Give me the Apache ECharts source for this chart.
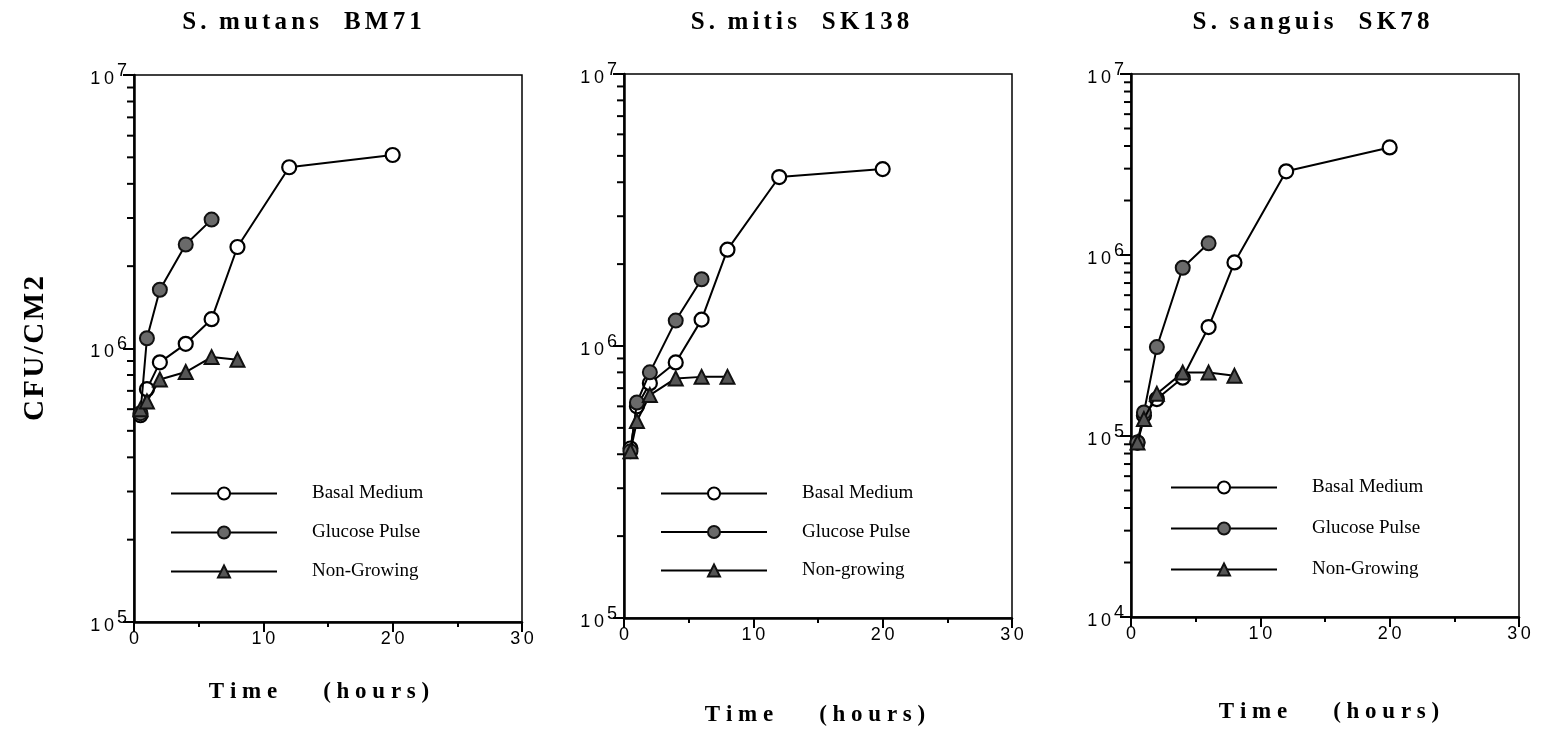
<!DOCTYPE html>
<html>
<head>
<meta charset="utf-8">
<script src="https://cdn.jsdelivr.net/npm/echarts@6/dist/echarts.min.js"></script>
<style>
  html, body { margin: 0; padding: 0; background: #fff; }
  #chart { width: 1558px; height: 732px; }
</style>
</head>
<body>
<div id="chart"></div>
<script>
// Sampling times (hours) for each treatment
const timesBasal = [0.5, 1, 2, 4, 6, 8, 12, 20];
const timesPulse = [0.5, 1, 2, 4, 6];
const timesNonGrowing = [0.5, 1, 2, 4, 6, 8];

// CFU per cm2, S. mutans BM71
const mutansBasal = [5.7e5, 7.1e5, 8.9e5, 1.04e6, 1.28e6, 2.35e6, 4.6e6, 5.1e6];
const mutansPulse = [5.8e5, 1.09e6, 1.64e6, 2.4e6, 2.96e6];
const mutansNonGrowing = [6.0e5, 6.4e5, 7.7e5, 8.2e5, 9.3e5, 9.1e5];

// CFU per cm2, S. mitis SK138
const mitisBasal = [4.2e5, 6.0e5, 7.3e5, 8.7e5, 1.25e6, 2.26e6, 4.18e6, 4.47e6];
const mitisPulse = [4.1e5, 6.2e5, 8.0e5, 1.24e6, 1.76e6];
const mitisNonGrowing = [4.1e5, 5.3e5, 6.6e5, 7.6e5, 7.7e5, 7.7e5];

// CFU per cm2, S. sanguis SK78
const sanguisBasal = [9.2e4, 1.3e5, 1.6e5, 2.1e5, 4.0e5, 9.1e5, 2.9e6, 3.93e6];
const sanguisPulse = [9.2e4, 1.35e5, 3.1e5, 8.5e5, 1.16e6];
const sanguisNonGrowing = [9.2e4, 1.24e5, 1.71e5, 2.24e5, 2.24e5, 2.15e5];

// Panel titles, legend labels and axis ranges
const panelTitles = ['S.  mutans    BM71', 'S.  mitis    SK138', 'S.  sanguis    SK78'];
const legendNames = [
  ['Basal Medium', 'Glucose Pulse', 'Non-Growing'],
  ['Basal Medium', 'Glucose Pulse', 'Non-growing'],
  ['Basal Medium', 'Glucose Pulse', 'Non-Growing']
];
const yMin = [1e5, 1e5, 1e4];
const yMax = [1e7, 1e7, 1e7];
const minorTickFactors = [2, 3, 4, 5, 6, 7, 8, 9];
const xTitle = 'Time        (hours)';
const yTitle = 'CFU/CM2';

const panels = [
  { basal: mutansBasal, pulse: mutansPulse, non: mutansNonGrowing },
  { basal: mitisBasal, pulse: mitisPulse, non: mitisNonGrowing },
  { basal: sanguisBasal, pulse: sanguisPulse, non: sanguisNonGrowing }
];

// Layout of the three plot frames
const gridBoxes = [
  { left: 134, top: 75, width: 388, height: 547 },
  { left: 624, top: 74, width: 388, height: 544 },
  { left: 1131, top: 74, width: 388, height: 543 }
];
const legendBoxes = [
  { left: 170, top: 484, gap: 20 },
  { left: 660, top: 484, gap: 19.5 },
  { left: 1170, top: 478, gap: 22 }
];
const titleCenters = [297, 795, 1306];
const xNameGaps = [59, 86, 84];
const xNameShift = [-9, -3, 4];

const SERIF = '"Liberation Serif", "Times New Roman", Times, serif';
const SANS = '"Liberation Sans", Arial, Helvetica, sans-serif';

// typewriter-style letter spacing: a narrow space between letters of each word
function spaced(text, gap) {
  return text.split(' ').map(w => w.split('').join(gap)).join(' ');
}

function pairs(times, values) {
  return values.map((v, i) => [times[i], v]);
}

function minorTickValues(min, max) {
  const out = [];
  for (let d = min; d < max; d *= 10) {
    minorTickFactors.forEach(f => out.push(d * f));
  }
  return out;
}

const grid = [], xAxis = [], yAxis = [], series = [], title = [], legend = [];

panels.forEach((p, i) => {
  grid.push(Object.assign({
    show: true, borderColor: '#000', borderWidth: 1.5, backgroundColor: 'transparent',
    containLabel: false, outerBoundsMode: 'none'
  }, gridBoxes[i]));

  title.push({
    text: spaced(panelTitles[i], '\u2006'),
    left: titleCenters[i],
    top: 5,
    textAlign: 'center',
    textStyle: { fontFamily: SERIF, fontWeight: 'bold', fontSize: 25, color: '#000' }
  });

  const shift = xNameShift[i];
  xAxis.push({
    gridIndex: i,
    type: 'value',
    min: 0, max: 30, interval: 10,
    axisLine: { show: true, lineStyle: { color: '#000', width: 2.5 } },
    axisTick: { show: true, length: 10, inside: false, lineStyle: { color: '#000', width: 2 } },
    minorTick: { show: true, splitNumber: 2, length: 5, lineStyle: { color: '#000', width: 2 } },
    splitLine: { show: false },
    axisLabel: {
      margin: 8,
      fontFamily: SANS, fontSize: 18, color: '#000',
      formatter: v => String(v).split('').join('\u2009')
    },
    name: spaced(xTitle, '\u2005'),
    nameLocation: 'middle',
    nameGap: xNameGaps[i],
    nameTextStyle: {
      fontFamily: SERIF, fontWeight: 'bold', fontSize: 23, color: '#000',
      padding: shift < 0 ? [0, -2 * shift, 0, 0] : [0, 0, 0, 2 * shift]
    }
  });

  yAxis.push({
    gridIndex: i,
    type: 'log',
    logBase: 10,
    min: yMin[i], max: yMax[i],
    axisLine: { show: true, lineStyle: { color: '#000', width: 2.5 } },
    axisTick: { show: true, length: 11, inside: false, lineStyle: { color: '#000', width: 2 } },
    splitLine: { show: false },
    axisLabel: {
      margin: 7,
      formatter: v => '{b|1\u20090}{s|' + Math.round(Math.log10(v)) + '}',
      rich: {
        b: { fontFamily: SANS, fontSize: 18, color: '#000', padding: [8, 0, 0, 0] },
        s: { fontFamily: SANS, fontSize: 18, color: '#000', padding: [0, 0, 8, 3] }
      }
    },
    name: i === 0 ? spaced(yTitle, '\u200A') : '',
    nameLocation: 'middle',
    nameRotate: 90,
    nameGap: 84,
    nameTextStyle: { fontFamily: SERIF, fontWeight: 'bold', fontSize: 29, color: '#000', padding: [0, 0, 0, 0] }
  });

  const lineStyle = { color: '#000', width: 2 };
  series.push({
    name: 'Basal Medium', type: 'line', xAxisIndex: i, yAxisIndex: i,
    data: pairs(timesBasal, p.basal),
    symbol: 'circle', symbolSize: 14,
    lineStyle, itemStyle: { color: '#fff', borderColor: '#000', borderWidth: 2.2 },
    z: 3
  });
  series.push({
    name: 'Glucose Pulse', type: 'line', xAxisIndex: i, yAxisIndex: i,
    data: pairs(timesPulse, p.pulse),
    symbol: 'circle', symbolSize: 14,
    lineStyle, itemStyle: { color: '#6a6a6a', borderColor: '#111', borderWidth: 2 },
    z: 4
  });
  series.push({
    name: legendNames[i][2], type: 'line', xAxisIndex: i, yAxisIndex: i,
    data: pairs(timesNonGrowing, p.non),
    symbol: 'triangle', symbolSize: 14,
    lineStyle, itemStyle: { color: '#555', borderColor: '#111', borderWidth: 2 },
    z: 5
  });

  // short minor ticks at 2..9 x 10^n on the left axis
  series.push({
    type: 'custom', xAxisIndex: i, yAxisIndex: i,
    silent: true, clip: false, z: 6,
    data: minorTickValues(yMin[i], yMax[i]).map(v => [0, v]),
    renderItem: (params, api) => {
      const pt = api.coord([api.value(0), api.value(1)]);
      return {
        type: 'line',
        shape: { x1: pt[0] - 7, y1: pt[1], x2: pt[0], y2: pt[1] },
        style: { stroke: '#000', lineWidth: 2 }
      };
    }
  });

  legend.push({
    orient: 'vertical',
    left: legendBoxes[i].left,
    top: legendBoxes[i].top,
    padding: 0,
    itemWidth: 106,
    itemHeight: 15,
    itemGap: legendBoxes[i].gap,
    selectedMode: false,
    data: legendNames[i],
    textStyle: { fontFamily: SERIF, fontSize: 19, color: '#000', padding: [0, 0, 0, 30], lineHeight: 15 }
  });
});

const chart = echarts.init(document.getElementById('chart'), null, { renderer: 'canvas' });
chart.setOption({
  animation: false,
  backgroundColor: '#fff',
  title, grid, xAxis, yAxis, series, legend
});
</script>
</body>
</html>
